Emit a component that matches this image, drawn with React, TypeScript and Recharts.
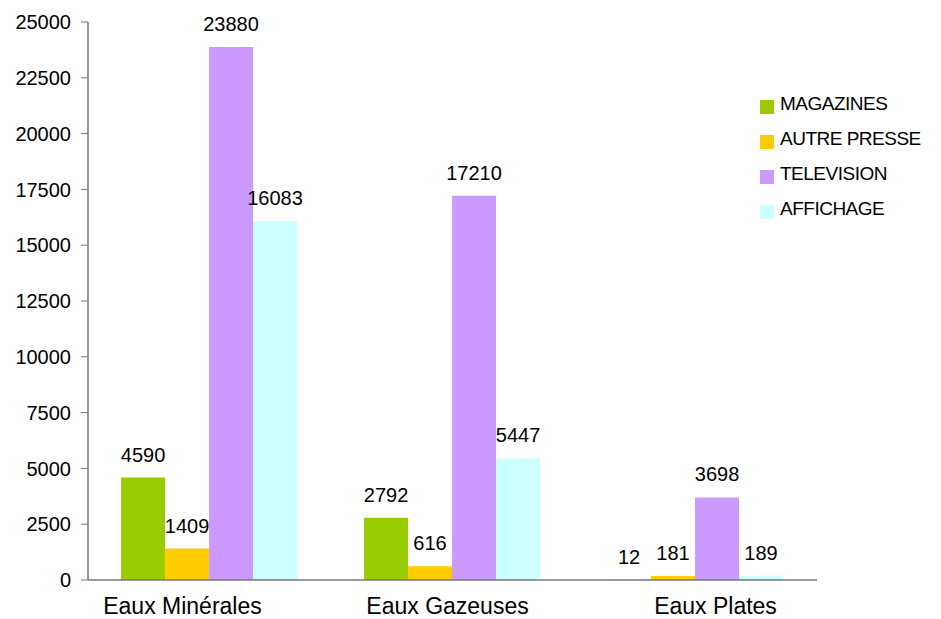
import { BarChart, Bar, XAxis, YAxis, LabelList } from "recharts";

const categories = ["Eaux Minérales", "Eaux Gazeuses", "Eaux Plates"];
const magazines = [4590, 2792, 12];
const autrePresse = [1409, 616, 181];
const television = [23880, 17210, 3698];
const affichage = [16083, 5447, 189];
const yTicks = [0, 2500, 5000, 7500, 10000, 12500, 15000, 17500, 20000, 22500, 25000];

const series = [
  { key: "magazines", name: "MAGAZINES", color: "#99CC00" },
  { key: "autrePresse", name: "AUTRE PRESSE", color: "#FFCC00" },
  { key: "television", name: "TELEVISION", color: "#CC99FF" },
  { key: "affichage", name: "AFFICHAGE", color: "#CCFFFF" },
];

const data = categories.map((name, i) => ({
  name,
  magazines: magazines[i],
  autrePresse: autrePresse[i],
  television: television[i],
  affichage: affichage[i],
}));

const FONT = "'Liberation Sans', Arial, sans-serif";

// category labels sit a little off-centre, like the spreadsheet export
const labelShift = [-27, -5, 20];

function CategoryTick(props: any) {
  const { x, y, payload, index } = props;
  return (
    <text
      x={x + (labelShift[index] ?? 0)}
      y={y + 26}
      textAnchor="middle"
      fontSize={23}
      fontFamily={FONT}
      fill="#000"
    >
      {payload.value}
    </text>
  );
}

function LegendBox() {
  return (
    <div
      style={{
        position: "absolute",
        left: 760,
        top: 86,
        fontFamily: FONT,
        fontSize: 19,
        letterSpacing: -0.5,
        color: "#000",
      }}
    >
      {series.map((s) => (
        <div key={s.key} style={{ display: "flex", alignItems: "center", height: 35, whiteSpace: "nowrap" }}>
          <span
            style={{ width: 14, height: 14, background: s.color, marginRight: 6, marginTop: 6, display: "inline-block" }}
          />
          <span>{s.name}</span>
        </div>
      ))}
    </div>
  );
}

export default function App() {
  return (
    <div style={{ position: "absolute", left: 0, top: 0, width: 941, height: 619, background: "#fff" }}>
      <BarChart
        width={941}
        height={619}
        data={data}
        margin={{ top: 22, right: 124, bottom: 0, left: 0 }}
        barCategoryGap="13.6%"
        barGap={0}
      >
        <XAxis
          dataKey="name"
          height={39}
          tickLine={false}
          axisLine={{ stroke: "#777", strokeWidth: 1.5 }}
          tick={<CategoryTick />}
          interval={0}
        />
        <YAxis
          width={88}
          domain={[0, 25000]}
          ticks={yTicks}
          interval={0}
          tickSize={7}
          tickMargin={10}
          axisLine={{ stroke: "#777", strokeWidth: 1.5 }}
          tickLine={{ stroke: "#777" }}
          tick={{ fill: "#000", fontSize: 20, fontFamily: FONT }}
        />
        {series.map((s) => (
          <Bar key={s.key} dataKey={s.key} name={s.name} fill={s.color} isAnimationActive={false}>
            <LabelList
              dataKey={s.key}
              position="top"
              offset={16}
              fill="#000"
              fontSize={20}
              fontFamily={FONT}
            />
          </Bar>
        ))}
      </BarChart>
      <LegendBox />
    </div>
  );
}
